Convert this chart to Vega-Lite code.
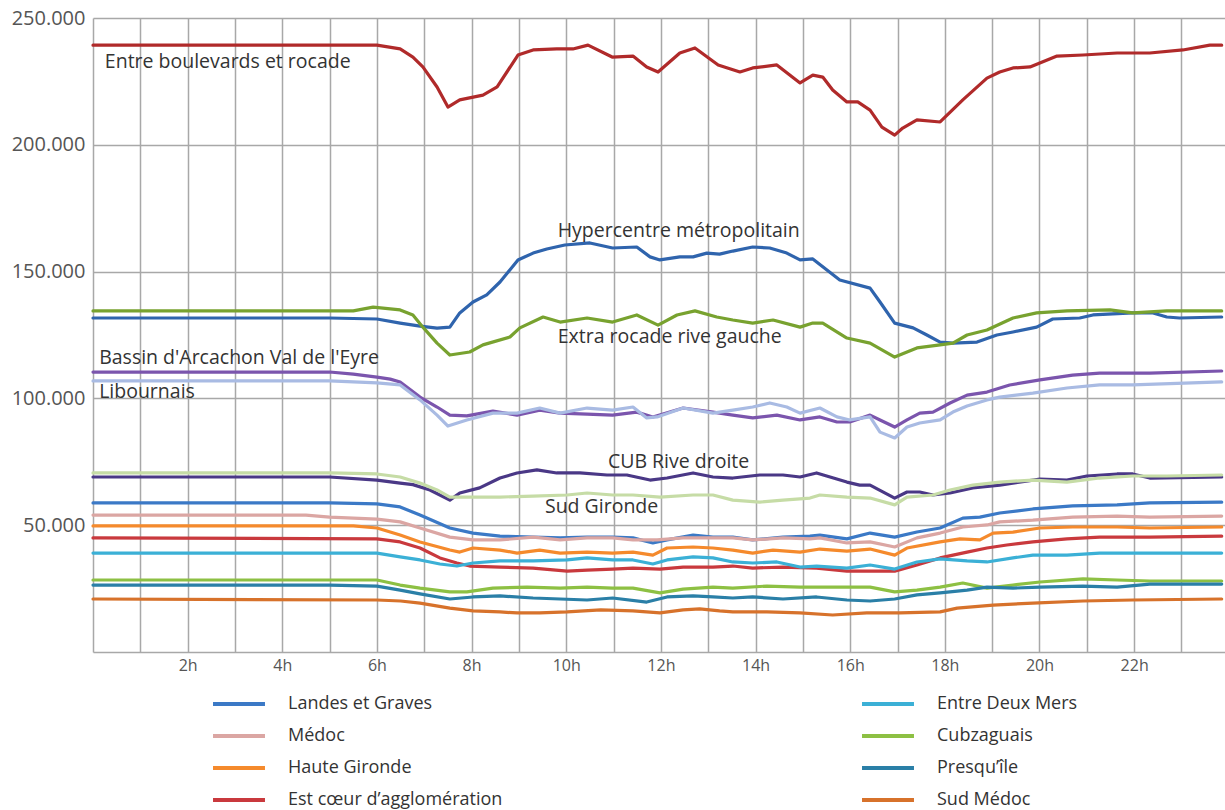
{
  "$schema": "https://vega.github.io/schema/vega-lite/v6.json",
  "autosize": "none",
  "width": 1132,
  "height": 634,
  "padding": {"left": 93, "top": 18, "right": 0, "bottom": 158},
  "background": "white",
  "config": {
    "view": {"stroke": null},
    "font": "Open Sans"
  },
  "datasets": {
    "series": [
      {"zone":"Entre boulevards et rocade","h":0,"v":239300},{"zone":"Entre boulevards et rocade","h":6,"v":239300},{"zone":"Entre boulevards et rocade","h":6.49,"v":237800},{"zone":"Entre boulevards et rocade","h":6.76,"v":234600},{"zone":"Entre boulevards et rocade","h":6.97,"v":230700},{"zone":"Entre boulevards et rocade","h":7.27,"v":222800},{"zone":"Entre boulevards et rocade","h":7.5,"v":214900},{"zone":"Entre boulevards et rocade","h":7.75,"v":217700},{"zone":"Entre boulevards et rocade","h":8.24,"v":219600},{"zone":"Entre boulevards et rocade","h":8.54,"v":222800},{"zone":"Entre boulevards et rocade","h":8.98,"v":235400},{"zone":"Entre boulevards et rocade","h":9.3,"v":237400},{"zone":"Entre boulevards et rocade","h":9.8,"v":237800},{"zone":"Entre boulevards et rocade","h":10.14,"v":237800},{"zone":"Entre boulevards et rocade","h":10.46,"v":239300},{"zone":"Entre boulevards et rocade","h":10.97,"v":234600},{"zone":"Entre boulevards et rocade","h":11.41,"v":235000},{"zone":"Entre boulevards et rocade","h":11.7,"v":230700},{"zone":"Entre boulevards et rocade","h":11.94,"v":228700},{"zone":"Entre boulevards et rocade","h":12.4,"v":236200},{"zone":"Entre boulevards et rocade","h":12.72,"v":238200},{"zone":"Entre boulevards et rocade","h":13.21,"v":231500},{"zone":"Entre boulevards et rocade","h":13.67,"v":228700},{"zone":"Entre boulevards et rocade","h":13.94,"v":230300},{"zone":"Entre boulevards et rocade","h":14.45,"v":231500},{"zone":"Entre boulevards et rocade","h":14.94,"v":224400},{"zone":"Entre boulevards et rocade","h":15.21,"v":227500},{"zone":"Entre boulevards et rocade","h":15.42,"v":226700},{"zone":"Entre boulevards et rocade","h":15.63,"v":221600},{"zone":"Entre boulevards et rocade","h":15.93,"v":216900},{"zone":"Entre boulevards et rocade","h":16.16,"v":216900},{"zone":"Entre boulevards et rocade","h":16.42,"v":213700},{"zone":"Entre boulevards et rocade","h":16.67,"v":207000},{"zone":"Entre boulevards et rocade","h":16.94,"v":203800},{"zone":"Entre boulevards et rocade","h":17.11,"v":206600},{"zone":"Entre boulevards et rocade","h":17.41,"v":209800},{"zone":"Entre boulevards et rocade","h":17.9,"v":209000},{"zone":"Entre boulevards et rocade","h":18.38,"v":217700},{"zone":"Entre boulevards et rocade","h":18.89,"v":226300},{"zone":"Entre boulevards et rocade","h":19.16,"v":228700},{"zone":"Entre boulevards et rocade","h":19.44,"v":230300},{"zone":"Entre boulevards et rocade","h":19.8,"v":230700},{"zone":"Entre boulevards et rocade","h":20.37,"v":235000},{"zone":"Entre boulevards et rocade","h":20.92,"v":235400},{"zone":"Entre boulevards et rocade","h":21.64,"v":236200},{"zone":"Entre boulevards et rocade","h":22.33,"v":236200},{"zone":"Entre boulevards et rocade","h":23.03,"v":237400},{"zone":"Entre boulevards et rocade","h":23.6,"v":239300},{"zone":"Entre boulevards et rocade","h":23.85,"v":239300},

      {"zone":"Hypercentre métropolitain","h":0,"v":131700},{"zone":"Hypercentre métropolitain","h":5,"v":131700},{"zone":"Hypercentre métropolitain","h":6,"v":131300},{"zone":"Hypercentre métropolitain","h":6.49,"v":129700},{"zone":"Hypercentre métropolitain","h":6.91,"v":128500},{"zone":"Hypercentre métropolitain","h":7.27,"v":127700},{"zone":"Hypercentre métropolitain","h":7.54,"v":128100},{"zone":"Hypercentre métropolitain","h":7.75,"v":133700},{"zone":"Hypercentre métropolitain","h":8.03,"v":138000},{"zone":"Hypercentre métropolitain","h":8.32,"v":140800},{"zone":"Hypercentre métropolitain","h":8.6,"v":145900},{"zone":"Hypercentre métropolitain","h":8.98,"v":154600},{"zone":"Hypercentre métropolitain","h":9.3,"v":157300},{"zone":"Hypercentre métropolitain","h":9.59,"v":158900},{"zone":"Hypercentre métropolitain","h":9.97,"v":160500},{"zone":"Hypercentre métropolitain","h":10.5,"v":161300},{"zone":"Hypercentre métropolitain","h":10.98,"v":159300},{"zone":"Hypercentre métropolitain","h":11.49,"v":159700},{"zone":"Hypercentre métropolitain","h":11.77,"v":155800},{"zone":"Hypercentre métropolitain","h":11.98,"v":154600},{"zone":"Hypercentre métropolitain","h":12.4,"v":155800},{"zone":"Hypercentre métropolitain","h":12.68,"v":155800},{"zone":"Hypercentre métropolitain","h":12.97,"v":157300},{"zone":"Hypercentre métropolitain","h":13.24,"v":156900},{"zone":"Hypercentre métropolitain","h":13.52,"v":158100},{"zone":"Hypercentre métropolitain","h":13.94,"v":159700},{"zone":"Hypercentre métropolitain","h":14.3,"v":159300},{"zone":"Hypercentre métropolitain","h":14.66,"v":157300},{"zone":"Hypercentre métropolitain","h":14.94,"v":154600},{"zone":"Hypercentre métropolitain","h":15.21,"v":155000},{"zone":"Hypercentre métropolitain","h":15.78,"v":146700},{"zone":"Hypercentre métropolitain","h":16.42,"v":143500},{"zone":"Hypercentre métropolitain","h":16.63,"v":138000},{"zone":"Hypercentre métropolitain","h":16.94,"v":129700},{"zone":"Hypercentre métropolitain","h":17.33,"v":127800},{"zone":"Hypercentre métropolitain","h":17.62,"v":125000},{"zone":"Hypercentre métropolitain","h":17.9,"v":122200},{"zone":"Hypercentre métropolitain","h":18.17,"v":121800},{"zone":"Hypercentre métropolitain","h":18.68,"v":122200},{"zone":"Hypercentre métropolitain","h":19.1,"v":125000},{"zone":"Hypercentre métropolitain","h":19.44,"v":126200},{"zone":"Hypercentre métropolitain","h":19.94,"v":128100},{"zone":"Hypercentre métropolitain","h":20.28,"v":131300},{"zone":"Hypercentre métropolitain","h":20.85,"v":131700},{"zone":"Hypercentre métropolitain","h":21.13,"v":132900},{"zone":"Hypercentre métropolitain","h":21.97,"v":133700},{"zone":"Hypercentre métropolitain","h":22.4,"v":133700},{"zone":"Hypercentre métropolitain","h":22.69,"v":132100},{"zone":"Hypercentre métropolitain","h":22.96,"v":131700},{"zone":"Hypercentre métropolitain","h":23.85,"v":132100},

      {"zone":"Extra rocade rive gauche","h":0,"v":134500},{"zone":"Extra rocade rive gauche","h":5.5,"v":134500},{"zone":"Extra rocade rive gauche","h":5.92,"v":136000},{"zone":"Extra rocade rive gauche","h":6.49,"v":134900},{"zone":"Extra rocade rive gauche","h":6.76,"v":132900},{"zone":"Extra rocade rive gauche","h":6.97,"v":128100},{"zone":"Extra rocade rive gauche","h":7.27,"v":121800},{"zone":"Extra rocade rive gauche","h":7.54,"v":117100},{"zone":"Extra rocade rive gauche","h":7.96,"v":118300},{"zone":"Extra rocade rive gauche","h":8.24,"v":121100},{"zone":"Extra rocade rive gauche","h":8.81,"v":124200},{"zone":"Extra rocade rive gauche","h":9.02,"v":127800},{"zone":"Extra rocade rive gauche","h":9.51,"v":132100},{"zone":"Extra rocade rive gauche","h":9.87,"v":130100},{"zone":"Extra rocade rive gauche","h":10.44,"v":131700},{"zone":"Extra rocade rive gauche","h":10.98,"v":130100},{"zone":"Extra rocade rive gauche","h":11.49,"v":132900},{"zone":"Extra rocade rive gauche","h":11.94,"v":128900},{"zone":"Extra rocade rive gauche","h":12.34,"v":132900},{"zone":"Extra rocade rive gauche","h":12.72,"v":134500},{"zone":"Extra rocade rive gauche","h":13.18,"v":132100},{"zone":"Extra rocade rive gauche","h":13.52,"v":130900},{"zone":"Extra rocade rive gauche","h":13.94,"v":129700},{"zone":"Extra rocade rive gauche","h":14.37,"v":130900},{"zone":"Extra rocade rive gauche","h":14.94,"v":128100},{"zone":"Extra rocade rive gauche","h":15.21,"v":129700},{"zone":"Extra rocade rive gauche","h":15.42,"v":129700},{"zone":"Extra rocade rive gauche","h":15.93,"v":123800},{"zone":"Extra rocade rive gauche","h":16.42,"v":121800},{"zone":"Extra rocade rive gauche","h":16.94,"v":116300},{"zone":"Extra rocade rive gauche","h":17.41,"v":119900},{"zone":"Extra rocade rive gauche","h":17.9,"v":121100},{"zone":"Extra rocade rive gauche","h":18.17,"v":121800},{"zone":"Extra rocade rive gauche","h":18.47,"v":125000},{"zone":"Extra rocade rive gauche","h":18.89,"v":127000},{"zone":"Extra rocade rive gauche","h":19.44,"v":131700},{"zone":"Extra rocade rive gauche","h":19.94,"v":133700},{"zone":"Extra rocade rive gauche","h":20.58,"v":134500},{"zone":"Extra rocade rive gauche","h":21.49,"v":134900},{"zone":"Extra rocade rive gauche","h":21.97,"v":133700},{"zone":"Extra rocade rive gauche","h":22.69,"v":134500},{"zone":"Extra rocade rive gauche","h":23.85,"v":134500},

      {"zone":"Bassin d'Arcachon Val de l'Eyre","h":0,"v":110400},{"zone":"Bassin d'Arcachon Val de l'Eyre","h":5,"v":110400},{"zone":"Bassin d'Arcachon Val de l'Eyre","h":5.5,"v":109600},{"zone":"Bassin d'Arcachon Val de l'Eyre","h":6,"v":108400},{"zone":"Bassin d'Arcachon Val de l'Eyre","h":6.28,"v":107600},{"zone":"Bassin d'Arcachon Val de l'Eyre","h":6.49,"v":106500},{"zone":"Bassin d'Arcachon Val de l'Eyre","h":6.91,"v":100500},{"zone":"Bassin d'Arcachon Val de l'Eyre","h":7.27,"v":96600},{"zone":"Bassin d'Arcachon Val de l'Eyre","h":7.54,"v":93400},{"zone":"Bassin d'Arcachon Val de l'Eyre","h":7.9,"v":93100},{"zone":"Bassin d'Arcachon Val de l'Eyre","h":8.45,"v":95000},{"zone":"Bassin d'Arcachon Val de l'Eyre","h":8.96,"v":93400},{"zone":"Bassin d'Arcachon Val de l'Eyre","h":9.44,"v":95400},{"zone":"Bassin d'Arcachon Val de l'Eyre","h":9.87,"v":94200},{"zone":"Bassin d'Arcachon Val de l'Eyre","h":10.44,"v":93800},{"zone":"Bassin d'Arcachon Val de l'Eyre","h":10.98,"v":93400},{"zone":"Bassin d'Arcachon Val de l'Eyre","h":11.49,"v":94600},{"zone":"Bassin d'Arcachon Val de l'Eyre","h":11.83,"v":92700},{"zone":"Bassin d'Arcachon Val de l'Eyre","h":12.47,"v":96200},{"zone":"Bassin d'Arcachon Val de l'Eyre","h":13.1,"v":94600},{"zone":"Bassin d'Arcachon Val de l'Eyre","h":13.52,"v":93400},{"zone":"Bassin d'Arcachon Val de l'Eyre","h":13.94,"v":92300},{"zone":"Bassin d'Arcachon Val de l'Eyre","h":14.45,"v":93400},{"zone":"Bassin d'Arcachon Val de l'Eyre","h":14.94,"v":91500},{"zone":"Bassin d'Arcachon Val de l'Eyre","h":15.36,"v":92700},{"zone":"Bassin d'Arcachon Val de l'Eyre","h":15.72,"v":90700},{"zone":"Bassin d'Arcachon Val de l'Eyre","h":15.99,"v":90700},{"zone":"Bassin d'Arcachon Val de l'Eyre","h":16.42,"v":93400},{"zone":"Bassin d'Arcachon Val de l'Eyre","h":16.63,"v":91500},{"zone":"Bassin d'Arcachon Val de l'Eyre","h":16.94,"v":88700},{"zone":"Bassin d'Arcachon Val de l'Eyre","h":17.2,"v":91500},{"zone":"Bassin d'Arcachon Val de l'Eyre","h":17.47,"v":94200},{"zone":"Bassin d'Arcachon Val de l'Eyre","h":17.75,"v":94600},{"zone":"Bassin d'Arcachon Val de l'Eyre","h":18.11,"v":98200},{"zone":"Bassin d'Arcachon Val de l'Eyre","h":18.47,"v":101300},{"zone":"Bassin d'Arcachon Val de l'Eyre","h":18.89,"v":102500},{"zone":"Bassin d'Arcachon Val de l'Eyre","h":19.37,"v":105300},{"zone":"Bassin d'Arcachon Val de l'Eyre","h":20.01,"v":107300},{"zone":"Bassin d'Arcachon Val de l'Eyre","h":20.7,"v":109200},{"zone":"Bassin d'Arcachon Val de l'Eyre","h":21.27,"v":110000},{"zone":"Bassin d'Arcachon Val de l'Eyre","h":22.33,"v":110000},{"zone":"Bassin d'Arcachon Val de l'Eyre","h":23.85,"v":110800},

      {"zone":"Libournais","h":0,"v":106900},{"zone":"Libournais","h":5,"v":106900},{"zone":"Libournais","h":6,"v":106100},{"zone":"Libournais","h":6.49,"v":105300},{"zone":"Libournais","h":6.91,"v":99400},{"zone":"Libournais","h":7.27,"v":93400},{"zone":"Libournais","h":7.5,"v":89100},{"zone":"Libournais","h":7.9,"v":91500},{"zone":"Libournais","h":8.45,"v":94200},{"zone":"Libournais","h":8.96,"v":94200},{"zone":"Libournais","h":9.44,"v":96200},{"zone":"Libournais","h":9.87,"v":94200},{"zone":"Libournais","h":10.44,"v":96200},{"zone":"Libournais","h":10.98,"v":95400},{"zone":"Libournais","h":11.41,"v":96600},{"zone":"Libournais","h":11.7,"v":92300},{"zone":"Libournais","h":11.92,"v":92700},{"zone":"Libournais","h":12.47,"v":96200},{"zone":"Libournais","h":13.1,"v":94200},{"zone":"Libournais","h":13.52,"v":95400},{"zone":"Libournais","h":13.94,"v":96600},{"zone":"Libournais","h":14.3,"v":98200},{"zone":"Libournais","h":14.66,"v":96600},{"zone":"Libournais","h":14.94,"v":94200},{"zone":"Libournais","h":15.36,"v":96200},{"zone":"Libournais","h":15.72,"v":92700},{"zone":"Libournais","h":15.99,"v":91500},{"zone":"Libournais","h":16.42,"v":92700},{"zone":"Libournais","h":16.63,"v":86700},{"zone":"Libournais","h":16.94,"v":84400},{"zone":"Libournais","h":17.2,"v":88700},{"zone":"Libournais","h":17.47,"v":90300},{"zone":"Libournais","h":17.9,"v":91500},{"zone":"Libournais","h":18.17,"v":94600},{"zone":"Libournais","h":18.47,"v":97000},{"zone":"Libournais","h":18.89,"v":99400},{"zone":"Libournais","h":19.16,"v":100500},{"zone":"Libournais","h":19.86,"v":102100},{"zone":"Libournais","h":20.58,"v":104100},{"zone":"Libournais","h":21.27,"v":105300},{"zone":"Libournais","h":21.97,"v":105300},{"zone":"Libournais","h":23.85,"v":106500},

      {"zone":"CUB Rive droite","h":0,"v":69000},{"zone":"CUB Rive droite","h":5,"v":69000},{"zone":"CUB Rive droite","h":6,"v":67800},{"zone":"CUB Rive droite","h":6.49,"v":66600},{"zone":"CUB Rive droite","h":6.76,"v":66000},{"zone":"CUB Rive droite","h":7.12,"v":63900},{"zone":"CUB Rive droite","h":7.54,"v":59900},{"zone":"CUB Rive droite","h":7.75,"v":62700},{"zone":"CUB Rive droite","h":8.17,"v":64700},{"zone":"CUB Rive droite","h":8.6,"v":68600},{"zone":"CUB Rive droite","h":8.96,"v":70600},{"zone":"CUB Rive droite","h":9.38,"v":71800},{"zone":"CUB Rive droite","h":9.8,"v":70600},{"zone":"CUB Rive droite","h":10.29,"v":70600},{"zone":"CUB Rive droite","h":10.86,"v":69800},{"zone":"CUB Rive droite","h":11.28,"v":69800},{"zone":"CUB Rive droite","h":11.77,"v":67800},{"zone":"CUB Rive droite","h":12.13,"v":68600},{"zone":"CUB Rive droite","h":12.68,"v":70600},{"zone":"CUB Rive droite","h":13.1,"v":69000},{"zone":"CUB Rive droite","h":13.52,"v":68600},{"zone":"CUB Rive droite","h":14.09,"v":69800},{"zone":"CUB Rive droite","h":14.58,"v":69800},{"zone":"CUB Rive droite","h":14.94,"v":69000},{"zone":"CUB Rive droite","h":15.29,"v":70600},{"zone":"CUB Rive droite","h":15.93,"v":67000},{"zone":"CUB Rive droite","h":16.2,"v":65800},{"zone":"CUB Rive droite","h":16.42,"v":65800},{"zone":"CUB Rive droite","h":16.94,"v":60700},{"zone":"CUB Rive droite","h":17.2,"v":63100},{"zone":"CUB Rive droite","h":17.47,"v":63100},{"zone":"CUB Rive droite","h":17.75,"v":61900},{"zone":"CUB Rive droite","h":18.11,"v":62700},{"zone":"CUB Rive droite","h":18.59,"v":64700},{"zone":"CUB Rive droite","h":19.16,"v":65800},{"zone":"CUB Rive droite","h":20.01,"v":68200},{"zone":"CUB Rive droite","h":20.58,"v":67800},{"zone":"CUB Rive droite","h":21,"v":69400},{"zone":"CUB Rive droite","h":21.64,"v":70200},{"zone":"CUB Rive droite","h":21.97,"v":70200},{"zone":"CUB Rive droite","h":22.33,"v":68600},{"zone":"CUB Rive droite","h":23.85,"v":69000},

      {"zone":"Sud Gironde","h":0,"v":70600},{"zone":"Sud Gironde","h":5,"v":70600},{"zone":"Sud Gironde","h":6,"v":70200},{"zone":"Sud Gironde","h":6.49,"v":69000},{"zone":"Sud Gironde","h":6.91,"v":66600},{"zone":"Sud Gironde","h":7.27,"v":63900},{"zone":"Sud Gironde","h":7.54,"v":61100},{"zone":"Sud Gironde","h":7.9,"v":61100},{"zone":"Sud Gironde","h":8.6,"v":61100},{"zone":"Sud Gironde","h":9.3,"v":61500},{"zone":"Sud Gironde","h":10.02,"v":61900},{"zone":"Sud Gironde","h":10.44,"v":62700},{"zone":"Sud Gironde","h":10.98,"v":61900},{"zone":"Sud Gironde","h":11.41,"v":61900},{"zone":"Sud Gironde","h":11.98,"v":61100},{"zone":"Sud Gironde","h":12.68,"v":61900},{"zone":"Sud Gironde","h":13.1,"v":61900},{"zone":"Sud Gironde","h":13.52,"v":59900},{"zone":"Sud Gironde","h":14.09,"v":59100},{"zone":"Sud Gironde","h":14.58,"v":59900},{"zone":"Sud Gironde","h":15.15,"v":60700},{"zone":"Sud Gironde","h":15.36,"v":61900},{"zone":"Sud Gironde","h":15.93,"v":61100},{"zone":"Sud Gironde","h":16.42,"v":60700},{"zone":"Sud Gironde","h":16.94,"v":58000},{"zone":"Sud Gironde","h":17.2,"v":61100},{"zone":"Sud Gironde","h":17.75,"v":61900},{"zone":"Sud Gironde","h":18.11,"v":63900},{"zone":"Sud Gironde","h":18.59,"v":65800},{"zone":"Sud Gironde","h":19.16,"v":67000},{"zone":"Sud Gironde","h":19.86,"v":67800},{"zone":"Sud Gironde","h":20.58,"v":67000},{"zone":"Sud Gironde","h":21.27,"v":68600},{"zone":"Sud Gironde","h":21.97,"v":69400},{"zone":"Sud Gironde","h":22.69,"v":69400},{"zone":"Sud Gironde","h":23.85,"v":69800},

      {"zone":"Landes et Graves","h":0,"v":58800},{"zone":"Landes et Graves","h":5,"v":58800},{"zone":"Landes et Graves","h":6,"v":58400},{"zone":"Landes et Graves","h":6.49,"v":57200},{"zone":"Landes et Graves","h":6.91,"v":54000},{"zone":"Landes et Graves","h":7.54,"v":48900},{"zone":"Landes et Graves","h":8.03,"v":46900},{"zone":"Landes et Graves","h":8.6,"v":45700},{"zone":"Landes et Graves","h":9.3,"v":45300},{"zone":"Landes et Graves","h":9.87,"v":45000},{"zone":"Landes et Graves","h":10.44,"v":45300},{"zone":"Landes et Graves","h":10.98,"v":45300},{"zone":"Landes et Graves","h":11.41,"v":45000},{"zone":"Landes et Graves","h":11.83,"v":43000},{"zone":"Landes et Graves","h":12.13,"v":44200},{"zone":"Landes et Graves","h":12.68,"v":46100},{"zone":"Landes et Graves","h":13.1,"v":45300},{"zone":"Landes et Graves","h":13.52,"v":45300},{"zone":"Landes et Graves","h":13.94,"v":44200},{"zone":"Landes et Graves","h":14.58,"v":45300},{"zone":"Landes et Graves","h":15.15,"v":45700},{"zone":"Landes et Graves","h":15.36,"v":46100},{"zone":"Landes et Graves","h":15.93,"v":44600},{"zone":"Landes et Graves","h":16.42,"v":46900},{"zone":"Landes et Graves","h":16.94,"v":45300},{"zone":"Landes et Graves","h":17.41,"v":47300},{"zone":"Landes et Graves","h":17.9,"v":48900},{"zone":"Landes et Graves","h":18.38,"v":52800},{"zone":"Landes et Graves","h":18.74,"v":53200},{"zone":"Landes et Graves","h":19.16,"v":54800},{"zone":"Landes et Graves","h":19.86,"v":56400},{"zone":"Landes et Graves","h":20.7,"v":57600},{"zone":"Landes et Graves","h":21.64,"v":58000},{"zone":"Landes et Graves","h":22.33,"v":58800},{"zone":"Landes et Graves","h":23.85,"v":59100},

      {"zone":"Médoc","h":0,"v":54000},{"zone":"Médoc","h":4.5,"v":54000},{"zone":"Médoc","h":5,"v":53200},{"zone":"Médoc","h":6,"v":52400},{"zone":"Médoc","h":6.49,"v":51300},{"zone":"Médoc","h":6.91,"v":48900},{"zone":"Médoc","h":7.54,"v":45300},{"zone":"Médoc","h":8.03,"v":44200},{"zone":"Médoc","h":8.6,"v":44200},{"zone":"Médoc","h":9.3,"v":45300},{"zone":"Médoc","h":9.87,"v":44200},{"zone":"Médoc","h":10.44,"v":45000},{"zone":"Médoc","h":10.98,"v":45000},{"zone":"Médoc","h":11.41,"v":44200},{"zone":"Médoc","h":11.92,"v":44200},{"zone":"Médoc","h":12.47,"v":45000},{"zone":"Médoc","h":13.1,"v":45000},{"zone":"Médoc","h":13.52,"v":45000},{"zone":"Médoc","h":13.94,"v":44200},{"zone":"Médoc","h":14.58,"v":45000},{"zone":"Médoc","h":15.15,"v":44600},{"zone":"Médoc","h":15.36,"v":45000},{"zone":"Médoc","h":15.93,"v":43000},{"zone":"Médoc","h":16.42,"v":43400},{"zone":"Médoc","h":16.94,"v":41400},{"zone":"Médoc","h":17.41,"v":45000},{"zone":"Médoc","h":17.9,"v":46900},{"zone":"Médoc","h":18.38,"v":49300},{"zone":"Médoc","h":18.89,"v":50100},{"zone":"Médoc","h":19.16,"v":51300},{"zone":"Médoc","h":19.86,"v":52000},{"zone":"Médoc","h":20.7,"v":53200},{"zone":"Médoc","h":21.64,"v":53600},{"zone":"Médoc","h":22.33,"v":53200},{"zone":"Médoc","h":23.85,"v":53600},

      {"zone":"Haute Gironde","h":0,"v":49700},{"zone":"Haute Gironde","h":5.5,"v":49700},{"zone":"Haute Gironde","h":6,"v":48900},{"zone":"Haute Gironde","h":6.49,"v":46100},{"zone":"Haute Gironde","h":6.91,"v":43400},{"zone":"Haute Gironde","h":7.54,"v":40200},{"zone":"Haute Gironde","h":7.75,"v":39400},{"zone":"Haute Gironde","h":8.03,"v":41000},{"zone":"Haute Gironde","h":8.6,"v":40200},{"zone":"Haute Gironde","h":8.96,"v":39000},{"zone":"Haute Gironde","h":9.44,"v":40200},{"zone":"Haute Gironde","h":9.87,"v":39000},{"zone":"Haute Gironde","h":10.44,"v":39400},{"zone":"Haute Gironde","h":10.98,"v":39000},{"zone":"Haute Gironde","h":11.41,"v":39400},{"zone":"Haute Gironde","h":11.83,"v":38200},{"zone":"Haute Gironde","h":12.13,"v":41000},{"zone":"Haute Gironde","h":12.68,"v":41400},{"zone":"Haute Gironde","h":13.1,"v":41000},{"zone":"Haute Gironde","h":13.52,"v":40200},{"zone":"Haute Gironde","h":13.94,"v":39000},{"zone":"Haute Gironde","h":14.37,"v":40200},{"zone":"Haute Gironde","h":14.94,"v":39400},{"zone":"Haute Gironde","h":15.36,"v":40600},{"zone":"Haute Gironde","h":15.93,"v":39800},{"zone":"Haute Gironde","h":16.42,"v":40600},{"zone":"Haute Gironde","h":16.94,"v":38200},{"zone":"Haute Gironde","h":17.2,"v":41000},{"zone":"Haute Gironde","h":17.9,"v":43400},{"zone":"Haute Gironde","h":18.32,"v":44600},{"zone":"Haute Gironde","h":18.74,"v":44200},{"zone":"Haute Gironde","h":19.02,"v":46900},{"zone":"Haute Gironde","h":19.44,"v":47300},{"zone":"Haute Gironde","h":20.01,"v":48900},{"zone":"Haute Gironde","h":20.7,"v":49300},{"zone":"Haute Gironde","h":21.64,"v":49300},{"zone":"Haute Gironde","h":22.33,"v":48900},{"zone":"Haute Gironde","h":23.85,"v":49300},

      {"zone":"Est cœur d’agglomération","h":0,"v":45000},{"zone":"Est cœur d’agglomération","h":6,"v":44600},{"zone":"Est cœur d’agglomération","h":6.49,"v":43400},{"zone":"Est cœur d’agglomération","h":6.91,"v":41000},{"zone":"Est cœur d’agglomération","h":7.33,"v":37100},{"zone":"Est cœur d’agglomération","h":7.69,"v":35100},{"zone":"Est cœur d’agglomération","h":7.96,"v":33900},{"zone":"Est cœur d’agglomération","h":8.6,"v":33500},{"zone":"Est cœur d’agglomération","h":9.3,"v":33100},{"zone":"Est cœur d’agglomération","h":10.02,"v":31900},{"zone":"Est cœur d’agglomération","h":10.44,"v":32300},{"zone":"Est cœur d’agglomération","h":10.98,"v":32700},{"zone":"Est cœur d’agglomération","h":11.41,"v":33100},{"zone":"Est cœur d’agglomération","h":11.98,"v":32700},{"zone":"Est cœur d’agglomération","h":12.47,"v":33500},{"zone":"Est cœur d’agglomération","h":13.1,"v":33500},{"zone":"Est cœur d’agglomération","h":13.52,"v":33900},{"zone":"Est cœur d’agglomération","h":13.94,"v":33100},{"zone":"Est cœur d’agglomération","h":14.58,"v":33500},{"zone":"Est cœur d’agglomération","h":15.29,"v":33100},{"zone":"Est cœur d’agglomération","h":15.93,"v":31900},{"zone":"Est cœur d’agglomération","h":16.42,"v":31900},{"zone":"Est cœur d’agglomération","h":16.94,"v":31900},{"zone":"Est cœur d’agglomération","h":17.41,"v":34300},{"zone":"Est cœur d’agglomération","h":17.9,"v":37100},{"zone":"Est cœur d’agglomération","h":18.47,"v":39400},{"zone":"Est cœur d’agglomération","h":18.89,"v":41000},{"zone":"Est cœur d’agglomération","h":19.31,"v":42200},{"zone":"Est cœur d’agglomération","h":19.86,"v":43400},{"zone":"Est cœur d’agglomération","h":20.58,"v":44600},{"zone":"Est cœur d’agglomération","h":21.27,"v":45300},{"zone":"Est cœur d’agglomération","h":22.33,"v":45300},{"zone":"Est cœur d’agglomération","h":23.85,"v":45700},

      {"zone":"Entre Deux Mers","h":0,"v":39000},{"zone":"Entre Deux Mers","h":6,"v":39000},{"zone":"Entre Deux Mers","h":6.49,"v":37500},{"zone":"Entre Deux Mers","h":6.91,"v":36300},{"zone":"Entre Deux Mers","h":7.33,"v":34700},{"zone":"Entre Deux Mers","h":7.69,"v":33900},{"zone":"Entre Deux Mers","h":8.03,"v":35100},{"zone":"Entre Deux Mers","h":8.6,"v":35900},{"zone":"Entre Deux Mers","h":9.3,"v":35900},{"zone":"Entre Deux Mers","h":10.02,"v":36300},{"zone":"Entre Deux Mers","h":10.44,"v":37100},{"zone":"Entre Deux Mers","h":10.98,"v":36300},{"zone":"Entre Deux Mers","h":11.41,"v":36300},{"zone":"Entre Deux Mers","h":11.83,"v":34700},{"zone":"Entre Deux Mers","h":12.13,"v":36300},{"zone":"Entre Deux Mers","h":12.68,"v":37500},{"zone":"Entre Deux Mers","h":13.1,"v":37100},{"zone":"Entre Deux Mers","h":13.52,"v":35500},{"zone":"Entre Deux Mers","h":13.94,"v":35100},{"zone":"Entre Deux Mers","h":14.45,"v":35500},{"zone":"Entre Deux Mers","h":14.94,"v":33500},{"zone":"Entre Deux Mers","h":15.29,"v":33900},{"zone":"Entre Deux Mers","h":15.93,"v":33100},{"zone":"Entre Deux Mers","h":16.42,"v":34300},{"zone":"Entre Deux Mers","h":16.94,"v":32700},{"zone":"Entre Deux Mers","h":17.41,"v":35500},{"zone":"Entre Deux Mers","h":17.9,"v":36700},{"zone":"Entre Deux Mers","h":18.47,"v":35900},{"zone":"Entre Deux Mers","h":18.89,"v":35500},{"zone":"Entre Deux Mers","h":19.44,"v":37100},{"zone":"Entre Deux Mers","h":19.86,"v":38200},{"zone":"Entre Deux Mers","h":20.58,"v":38200},{"zone":"Entre Deux Mers","h":21.27,"v":39000},{"zone":"Entre Deux Mers","h":22.33,"v":39000},{"zone":"Entre Deux Mers","h":23.85,"v":39000},

      {"zone":"Cubzaguais","h":0,"v":28400},{"zone":"Cubzaguais","h":6,"v":28400},{"zone":"Cubzaguais","h":6.49,"v":26400},{"zone":"Cubzaguais","h":6.91,"v":25200},{"zone":"Cubzaguais","h":7.54,"v":23700},{"zone":"Cubzaguais","h":7.9,"v":23700},{"zone":"Cubzaguais","h":8.45,"v":25200},{"zone":"Cubzaguais","h":9.17,"v":25600},{"zone":"Cubzaguais","h":9.87,"v":25200},{"zone":"Cubzaguais","h":10.44,"v":25600},{"zone":"Cubzaguais","h":10.98,"v":25200},{"zone":"Cubzaguais","h":11.41,"v":25200},{"zone":"Cubzaguais","h":11.98,"v":23300},{"zone":"Cubzaguais","h":12.47,"v":24800},{"zone":"Cubzaguais","h":13.1,"v":25600},{"zone":"Cubzaguais","h":13.52,"v":25200},{"zone":"Cubzaguais","h":14.24,"v":26000},{"zone":"Cubzaguais","h":14.94,"v":25600},{"zone":"Cubzaguais","h":15.93,"v":25600},{"zone":"Cubzaguais","h":16.42,"v":25600},{"zone":"Cubzaguais","h":16.94,"v":23700},{"zone":"Cubzaguais","h":17.41,"v":24400},{"zone":"Cubzaguais","h":17.9,"v":25600},{"zone":"Cubzaguais","h":18.38,"v":27200},{"zone":"Cubzaguais","h":18.89,"v":25200},{"zone":"Cubzaguais","h":19.44,"v":26400},{"zone":"Cubzaguais","h":20.01,"v":27600},{"zone":"Cubzaguais","h":20.92,"v":28800},{"zone":"Cubzaguais","h":21.64,"v":28400},{"zone":"Cubzaguais","h":22.33,"v":28000},{"zone":"Cubzaguais","h":23.85,"v":28000},

      {"zone":"Presqu’île","h":0,"v":26400},{"zone":"Presqu’île","h":5,"v":26400},{"zone":"Presqu’île","h":6,"v":26000},{"zone":"Presqu’île","h":6.49,"v":24400},{"zone":"Presqu’île","h":6.91,"v":22900},{"zone":"Presqu’île","h":7.54,"v":20900},{"zone":"Presqu’île","h":8.03,"v":21700},{"zone":"Presqu’île","h":8.6,"v":22100},{"zone":"Presqu’île","h":9.3,"v":21300},{"zone":"Presqu’île","h":9.87,"v":20900},{"zone":"Presqu’île","h":10.44,"v":20500},{"zone":"Presqu’île","h":10.98,"v":21300},{"zone":"Presqu’île","h":11.7,"v":19700},{"zone":"Presqu’île","h":12.13,"v":21700},{"zone":"Presqu’île","h":12.68,"v":22100},{"zone":"Presqu’île","h":13.1,"v":21700},{"zone":"Presqu’île","h":13.52,"v":21300},{"zone":"Presqu’île","h":13.94,"v":21700},{"zone":"Presqu’île","h":14.58,"v":20900},{"zone":"Presqu’île","h":15.29,"v":21700},{"zone":"Presqu’île","h":15.93,"v":20500},{"zone":"Presqu’île","h":16.42,"v":20100},{"zone":"Presqu’île","h":16.94,"v":20900},{"zone":"Presqu’île","h":17.41,"v":22500},{"zone":"Presqu’île","h":17.9,"v":23300},{"zone":"Presqu’île","h":18.47,"v":24400},{"zone":"Presqu’île","h":18.89,"v":25600},{"zone":"Presqu’île","h":19.44,"v":25200},{"zone":"Presqu’île","h":20.01,"v":25600},{"zone":"Presqu’île","h":20.92,"v":26000},{"zone":"Presqu’île","h":21.64,"v":25600},{"zone":"Presqu’île","h":22.33,"v":26800},{"zone":"Presqu’île","h":23.85,"v":26800},

      {"zone":"Sud Médoc","h":0,"v":20900},{"zone":"Sud Médoc","h":6,"v":20500},{"zone":"Sud Médoc","h":6.5,"v":20100},{"zone":"Sud Médoc","h":6.91,"v":19300},{"zone":"Sud Médoc","h":7.54,"v":17300},{"zone":"Sud Médoc","h":8.03,"v":16200},{"zone":"Sud Médoc","h":8.6,"v":15800},{"zone":"Sud Médoc","h":8.96,"v":15400},{"zone":"Sud Médoc","h":9.44,"v":15400},{"zone":"Sud Médoc","h":10.02,"v":15800},{"zone":"Sud Médoc","h":10.73,"v":16600},{"zone":"Sud Médoc","h":11.41,"v":16200},{"zone":"Sud Médoc","h":11.98,"v":15400},{"zone":"Sud Médoc","h":12.47,"v":16600},{"zone":"Sud Médoc","h":12.82,"v":17000},{"zone":"Sud Médoc","h":13.24,"v":16200},{"zone":"Sud Médoc","h":13.52,"v":15800},{"zone":"Sud Médoc","h":14.24,"v":15800},{"zone":"Sud Médoc","h":14.94,"v":15400},{"zone":"Sud Médoc","h":15.63,"v":14600},{"zone":"Sud Médoc","h":16.35,"v":15400},{"zone":"Sud Médoc","h":17.05,"v":15400},{"zone":"Sud Médoc","h":17.9,"v":15800},{"zone":"Sud Médoc","h":18.26,"v":17300},{"zone":"Sud Médoc","h":19.02,"v":18500},{"zone":"Sud Médoc","h":19.86,"v":19300},{"zone":"Sud Médoc","h":20.92,"v":20100},{"zone":"Sud Médoc","h":21.97,"v":20500},{"zone":"Sud Médoc","h":23.85,"v":20900}
    ],
    "labels": [
      {"label":"Entre boulevards et rocade","h":0.25,"v":232600},
      {"label":"Hypercentre métropolitain","h":9.82,"v":166000},
      {"label":"Extra rocade rive gauche","h":9.82,"v":124200},
      {"label":"Bassin d'Arcachon Val de l'Eyre","h":0.13,"v":115900},
      {"label":"Libournais","h":0.13,"v":102500},
      {"label":"CUB Rive droite","h":10.88,"v":74900},
      {"label":"Sud Gironde","h":9.55,"v":57200}
    ]
  },
  "layer": [
    {
      "data": {"name": "series"},
      "mark": {"type": "line", "strokeWidth": 3.2, "strokeCap": "round", "strokeJoin": "round"},
      "encoding": {
        "x": {
          "field": "h", "type": "quantitative",
          "scale": {"domain": [0, 23.92], "nice": false, "zero": false},
          "axis": {
            "values": [0,1,2,3,4,5,6,7,8,9,10,11,12,13,14,15,16,17,18,19,20,21,22,23],
            "labelExpr": "datum.value > 0 && datum.value % 2 == 0 ? datum.value + 'h' : ''",
            "labelOverlap": false, "labelBound": false, "labelFlush": false,
            "grid": true, "gridColor": "#a8a8a8", "gridWidth": 1.5,
            "domain": false, "ticks": false,
            "labelFont": "Open Sans", "labelFontSize": 16, "labelColor": "#555", "labelPadding": 5,
            "title": null
          }
        },
        "y": {
          "field": "v", "type": "quantitative",
          "scale": {"domain": [0, 250000], "nice": false},
          "axis": {
            "values": [0, 50000, 100000, 150000, 200000, 250000],
            "labelExpr": "datum.value == 0 ? '' : replace(format(datum.value, ','), ',', '.')",
            "labelOverlap": false, "labelBound": false, "labelFlush": false,
            "grid": true, "gridColor": "#a8a8a8", "gridWidth": 1.5,
            "domain": false, "ticks": false,
            "labelFont": "Open Sans", "labelFontSize": 20, "labelColor": "#555", "labelPadding": 8,
            "title": null
          }
        },
        "color": {
          "field": "zone", "type": "nominal",
          "scale": {
            "domain": ["Entre boulevards et rocade","Hypercentre métropolitain","Extra rocade rive gauche","Bassin d'Arcachon Val de l'Eyre","Libournais","CUB Rive droite","Sud Gironde","Landes et Graves","Médoc","Haute Gironde","Est cœur d’agglomération","Entre Deux Mers","Cubzaguais","Presqu’île","Sud Médoc"],
            "range": ["#b02a2a","#2f64ad","#78a22f","#7b55ad","#a9bbe3","#4a3886","#c6dca6","#3b79c6","#dba6a3","#f58a2c","#c9393d","#3bb0d6","#8dc043","#2a7fa7","#d7722b"]
          },
          "legend": {
            "values": ["Landes et Graves","Médoc","Haute Gironde","Est cœur d’agglomération","Entre Deux Mers","Cubzaguais","Presqu’île","Sud Médoc"],
            "orient": "none", "legendX": 135, "legendY": 675,
            "columns": 2, "columnPadding": 351, "rowPadding": 12,
            "symbolType": "M-3,0H3", "symbolSize": 300, "symbolStrokeWidth": 4,
            "labelFont": "Open Sans", "labelFontSize": 18, "labelColor": "#333", "labelOffset": 38,
            "labelLimit": 400,
            "title": null, "padding": 0
          }
        }
      }
    },
    {
      "data": {"name": "labels"},
      "mark": {"type": "text", "align": "left", "baseline": "middle", "fontSize": 19.5, "font": "Open Sans", "color": "#333"},
      "encoding": {
        "x": {"field": "h", "type": "quantitative"},
        "y": {"field": "v", "type": "quantitative"},
        "text": {"field": "label"}
      }
    }
  ]
}
